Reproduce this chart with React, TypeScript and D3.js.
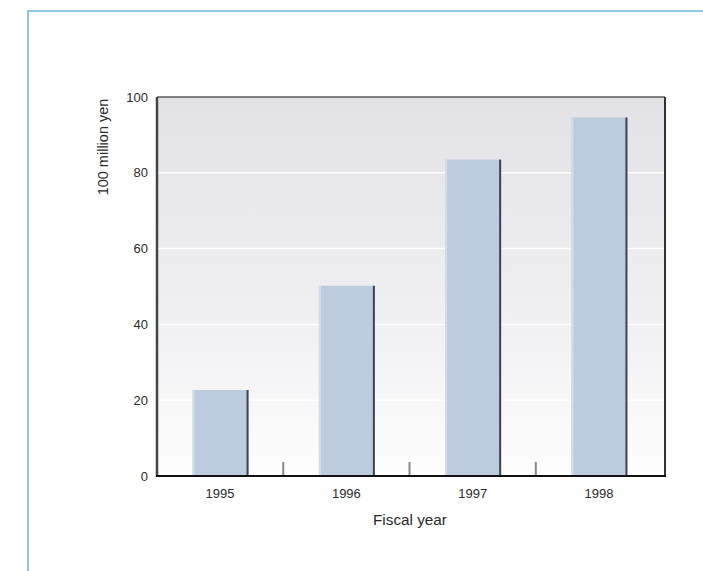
import React from "react";
import * as d3 from "d3";

const years = ["1995", "1996", "1997", "1998"];
const amounts = [22.7, 50.2, 83.5, 94.6];
const yTicks = [0, 20, 40, 60, 80, 100];
const yTitle = "100 million yen";
const xTitle = "Fiscal year";

const W = 703;
const H = 571;
const plot = { left: 157, right: 665, top: 97, bottom: 476 };

export default function App() {
  const x = d3
    .scaleBand<string>()
    .domain(years)
    .range([plot.left, plot.right])
    .paddingInner(0.5645)
    .paddingOuter(0.2935)
    .align(0.48);
  const y = d3.scaleLinear().domain([0, 100]).range([plot.bottom, plot.top]);
  const step = x.step();
  const bw = x.bandwidth();
  const font = "'Liberation Sans', Arial, Helvetica, sans-serif";
  const frame = "#8cc8e8";

  return (
    <svg
      width={W}
      height={H}
      style={{ position: "fixed", left: 0, top: 0, background: "#fff" }}
      fontFamily={font}
    >
      <defs>
        <linearGradient id="plotBg" x1="0" y1="0" x2="0" y2="1">
          <stop offset="0" stopColor="#e3e2e7" />
          <stop offset="0.55" stopColor="#efeff2" />
          <stop offset="1" stopColor="#fefefe" />
        </linearGradient>
      </defs>

      {/* page frame */}
      <line x1={28} y1={11} x2={W} y2={11} stroke={frame} strokeWidth={2} />
      <line x1={28} y1={10} x2={28} y2={H} stroke={frame} strokeWidth={2} />

      {/* plot background */}
      <rect
        x={plot.left}
        y={plot.top}
        width={plot.right - plot.left}
        height={plot.bottom - plot.top}
        fill="url(#plotBg)"
      />

      {/* gridlines */}
      {yTicks
        .filter((t) => t > 0 && t < 100)
        .map((t) => (
          <line
            key={t}
            x1={plot.left}
            x2={plot.right}
            y1={y(t)}
            y2={y(t)}
            stroke="#ffffff"
            strokeWidth={1.5}
          />
        ))}

      {/* bars */}
      {years.map((yr, i) => {
        const bx = x(yr)!;
        const by = y(amounts[i]);
        const bh = plot.bottom - by;
        return (
          <g key={yr}>
            <rect x={bx} y={by} width={bw} height={bh} fill="#bccbe0" />
            <rect x={bx} y={by} width={2} height={bh} fill="#d3ddea" />
            <rect x={bx + bw - 1} y={by} width={2} height={bh} fill="#3b4252" />
          </g>
        );
      })}

      {/* category separator ticks */}
      {years.slice(1).map((yr) => {
        const sx = x(yr)! - (step - bw) / 2;
        return (
          <line
            key={yr}
            x1={sx}
            x2={sx}
            y1={plot.bottom}
            y2={plot.bottom - 14}
            stroke="#888"
            strokeWidth={2}
          />
        );
      })}

      {/* plot borders */}
      <line x1={plot.left} x2={plot.right} y1={plot.top} y2={plot.top} stroke="#111" strokeWidth={1.2} />
      <line x1={plot.right} x2={plot.right} y1={plot.top} y2={plot.bottom} stroke="#333" strokeWidth={2} />
      <line x1={plot.left} x2={plot.left} y1={plot.top} y2={plot.bottom + 1} stroke="#444" strokeWidth={2.5} />
      <line x1={plot.left - 1} x2={plot.right + 1} y1={plot.bottom} y2={plot.bottom} stroke="#111" strokeWidth={2} />

      {/* y tick labels */}
      {yTicks.map((t) => (
        <text
          key={t}
          x={148}
          y={y(t)}
          dy="0.35em"
          textAnchor="end"
          fontSize={13}
          fill="#2a2a2a"
        >
          {t}
        </text>
      ))}

      {/* x tick labels */}
      {years.map((yr) => (
        <text
          key={yr}
          x={x(yr)! + bw / 2}
          y={498}
          textAnchor="middle"
          fontSize={13}
          fill="#2a2a2a"
        >
          {yr}
        </text>
      ))}

      <text
        transform={`translate(108,147) rotate(-90)`}
        textAnchor="middle"
        fontSize={14.5}
        fill="#2a2a2a"
      >
        {yTitle}
      </text>
      <text x={410} y={525} textAnchor="middle" fontSize={15.3} fill="#2a2a2a">
        {xTitle}
      </text>
    </svg>
  );
}
